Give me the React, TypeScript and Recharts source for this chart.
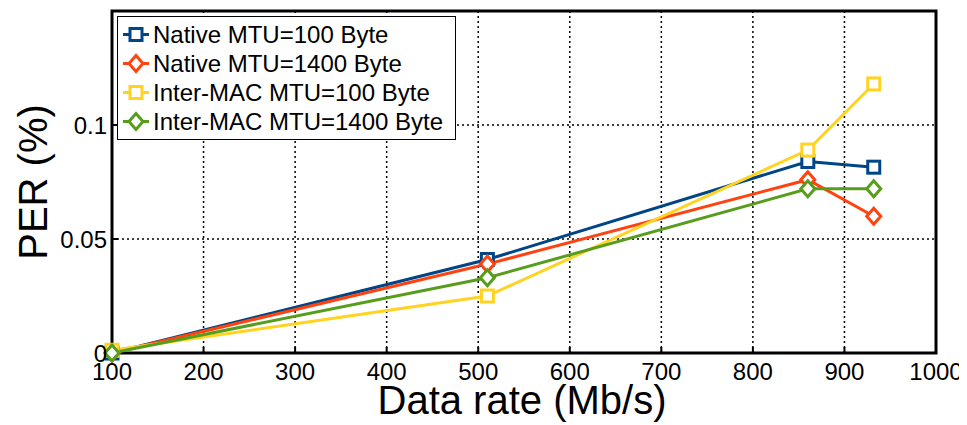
import { CartesianGrid, Legend, Line, LineChart, ReferenceArea, XAxis, YAxis } from "recharts";

const rates = [100, 510, 860, 932];
const nativeMtu100 = [0, 0.041, 0.084, 0.0815];
const nativeMtu1400 = [0, 0.039, 0.076, 0.06];
const interMacMtu100 = [0.0012, 0.025, 0.089, 0.118];
const interMacMtu1400 = [0, 0.033, 0.072, 0.072];

const xTicks = [100, 200, 300, 400, 500, 600, 700, 800, 900, 1000];
const yTicks = [0, 0.05, 0.1];

const series = [
  { key: "n100", name: "Native MTU=100 Byte", color: "#004586", shape: "square", values: nativeMtu100 },
  { key: "n1400", name: "Native MTU=1400 Byte", color: "#ff420e", shape: "diamond", values: nativeMtu1400 },
  { key: "i100", name: "Inter-MAC MTU=100 Byte", color: "#ffd320", shape: "square", values: interMacMtu100 },
  { key: "i1400", name: "Inter-MAC MTU=1400 Byte", color: "#579d1c", shape: "diamond", values: interMacMtu1400 },
];

const data = rates.map((r, i) => {
  const row: Record<string, number> = { rate: r };
  series.forEach((s) => (row[s.key] = s.values[i]));
  return row;
});

const FONT = "'Liberation Sans', Arial, sans-serif";

function Marker({ cx, cy, shape, color }: { cx: number; cy: number; shape: string; color: string }) {
  if (shape === "square") {
    return <rect x={cx - 6} y={cy - 6} width={12} height={12} fill="#fff" stroke={color} strokeWidth={3} />;
  }
  return (
    <polygon
      points={`${cx},${cy - 8} ${cx + 7},${cy} ${cx},${cy + 8} ${cx - 7},${cy}`}
      fill="#fff"
      stroke={color}
      strokeWidth={3}
    />
  );
}

function LegendBox() {
  return (
    <div
      style={{
        border: "1px solid #000",
        background: "#fff",
        padding: "3px 8px 3px 0",
        fontFamily: FONT,
        fontSize: 24,
        color: "#000",
        width: 329,
        boxSizing: "content-box",
      }}
    >
      {series.map((s) => (
        <div key={s.key} style={{ display: "flex", alignItems: "center", height: 29, whiteSpace: "nowrap" }}>
          <svg width={35} height={29} style={{ flex: "none" }}>
            <line x1={5} x2={31} y1={14.5} y2={14.5} stroke={s.color} strokeWidth={3} />
            <Marker cx={18} cy={14.5} shape={s.shape} color={s.color} />
          </svg>
          <span>{s.name}</span>
        </div>
      ))}
    </div>
  );
}

const noTick = () => <g />;

export default function App() {
  return (
    <LineChart
      width={959}
      height={417}
      data={data}
      margin={{ top: 3, right: 31, left: 0, bottom: 0 }}
      style={{ fontFamily: FONT }}
    >
      <CartesianGrid stroke="#000" strokeDasharray="2 3" strokeWidth={1.5} />
      <XAxis
        dataKey="rate"
        type="number"
        domain={[100, 1000]}
        ticks={xTicks}
        height={72}
        tickSize={-6}
        tickMargin={16}
        tick={{ fill: "#000", fontSize: 24 }}
        axisLine={false}
        tickLine={{ stroke: "#000", strokeWidth: 2 }}
        label={({ viewBox }: any) => (
          <text x={viewBox.x + viewBox.width / 2 - 2} y={viewBox.y + 61} textAnchor="middle" fontSize={40} fill="#000">
            Data rate (Mb/s)
          </text>
        )}
      />
      <XAxis
        xAxisId="top"
        orientation="top"
        type="number"
        domain={[100, 1000]}
        ticks={xTicks}
        height={0}
        tickSize={-6}
        tick={noTick}
        axisLine={false}
        tickLine={{ stroke: "#000", strokeWidth: 2 }}
      />
      <YAxis
        type="number"
        domain={[0, 0.15]}
        ticks={yTicks}
        width={104}
        tickSize={-6}
        tickMargin={11}
        tick={{ fill: "#000", fontSize: 24 }}
        tickFormatter={(v: number) => String(v)}
        axisLine={false}
        tickLine={{ stroke: "#000", strokeWidth: 2 }}
        label={({ viewBox }: any) => {
          const x = viewBox.x + 25;
          const y = viewBox.y + viewBox.height / 2;
          return (
            <text
              x={x}
              y={y}
              textAnchor="middle"
              dominantBaseline="central"
              fontSize={40}
              fill="#000"
              transform={`rotate(-90 ${x} ${y})`}
            >
              PER (%)
            </text>
          );
        }}
      />
      <YAxis
        yAxisId="right"
        orientation="right"
        type="number"
        domain={[0, 0.15]}
        ticks={yTicks}
        width={0}
        tickSize={-6}
        tick={noTick}
        axisLine={false}
        tickLine={{ stroke: "#000", strokeWidth: 2 }}
      />
      <ReferenceArea x1={100} x2={1000} y1={0} y2={0.15} fill="none" stroke="#000" strokeWidth={3} />
      {series.map((s) => (
        <Line
          key={s.key}
          dataKey={s.key}
          name={s.name}
          type="linear"
          stroke={s.color}
          strokeWidth={3}
          isAnimationActive={false}
          dot={(p: any) => <Marker key={`${s.key}-${p.index}`} cx={p.cx} cy={p.cy} shape={s.shape} color={s.color} />}
        />
      ))}
      <Legend
        layout="horizontal"
        verticalAlign="middle"
        align="center"
        content={() => <LegendBox />}
        wrapperStyle={{ left: 109, top: 8, width: "auto" }}
      />
    </LineChart>
  );
}
